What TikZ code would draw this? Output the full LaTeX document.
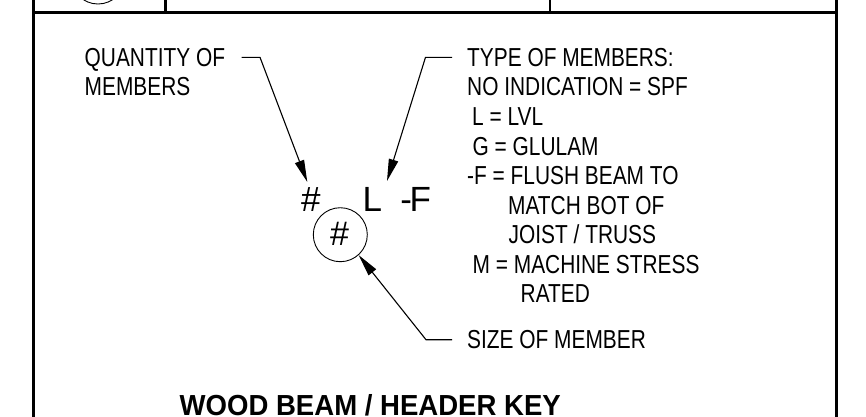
\documentclass[tikz,border=0pt]{standalone}
\usepackage{fontspec}
\setmainfont{Liberation Sans}
\newfontfamily\narrowfont[FakeStretch=0.803]{Liberation Sans}
\newfontfamily\titlefont[FakeStretch=0.95]{Liberation Sans}
\usetikzlibrary{arrows.meta}
\tikzset{
 x=1pt,y=-1pt,
 frame/.style={line width=2.9pt,black},
 lead/.style={line width=1.1pt,black,-{Triangle[length=22pt,width=9.5pt]}},
 lab/.style={anchor=base west,inner sep=0pt,font=\narrowfont\fontsize{26}{28}\selectfont},
 big/.style={anchor=base west,inner sep=0pt,font=\fontsize{35}{37}\selectfont},
 bubble/.style={circle,draw,line width=0.9pt,minimum size=54pt,inner sep=0pt},
}
\begin{document}
\begin{tikzpicture}
\useasboundingbox (0,0) rectangle (866,416);
\fill[white] (0,0) rectangle (866,416);
\begin{scope}
\clip (0,0) rectangle (866,416);
\coordinate (tl) at (33.8,-5); \coordinate (bl) at (33.8,421);
\coordinate (tr) at (836.8,-5); \coordinate (br) at (836.8,421);
\coordinate (ml) at (33.8,12.5); \coordinate (mr) at (836.8,12.5);
\coordinate (d1t) at (165.3,-5); \coordinate (d1b) at (165.3,12.5);
\coordinate (d2t) at (550,-5); \coordinate (d2b) at (550,12.5);
\draw[frame] (tl) -- (bl);
\draw[frame] (tr) -- (br);
\draw[frame] (ml) -- (mr);
\draw[frame] (d1t) -- (d1b);
\draw[frame] (d2t) -- (d2b);
\node[bubble] (top) at (98,-23) {};
\node[lab] (a1) at (84.5,66.7) {QUANTITY OF};
\node[lab] (a2) at (84.5,95.5) {MEMBERS};
\node[lab] (b1) at (467,66.7) {TYPE OF MEMBERS:};
\node[lab] (b2) at (467,95.5) {NO INDICATION = SPF};
\node[lab] (b3) at (472,125.5) {L = LVL};
\node[lab] (b4) at (472.5,155) {G = GLULAM};
\node[lab] (b5) at (467,184.5) {-F = FLUSH BEAM TO};
\node[lab] (b6) at (508,214) {MATCH BOT OF};
\node[lab] (b7) at (508.5,243.5) {JOIST / TRUSS};
\node[lab] (b8) at (472.5,273) {M = MACHINE STRESS};
\node[lab] (b9) at (520.5,302.5) {RATED};
\node[lab] (s) at (467,348) {SIZE OF MEMBER};
\node[big] (q) at (301,211.7) {\#};
\node[big] (l) at (362.4,211.7) {L};
\node[big] (f) at (400.2,211.7) {-\kern-2.5pt F};
\node[bubble] (b) at (340.3,234.7) {};
\node[big,anchor=base,font=\fontsize{34}{36}\selectfont] (h) at (339.6,245.2) {\#};
\coordinate (q1) at (241.7,57.3); \coordinate (q2) at (260,57.3); \coordinate (q3) at (307.3,182);
\draw[lead] (q1) -- (q2) -- (q3);
\coordinate (t1) at (452,57.3); \coordinate (t2) at (425.5,57.3); \coordinate (t3) at (387,181);
\draw[lead] (t1) -- (t2) -- (t3);
\coordinate (s1) at (452,339.7); \coordinate (s2) at (426,339.7);
\draw[lead] (s1) -- (s2) -- (b.-48);
\node[anchor=base west,inner sep=0pt,font=\titlefont\bfseries\fontsize{29}{31}\selectfont] (title) at (179.5,415.5) {WOOD BEAM / HEADER KEY};
\end{scope}
\end{tikzpicture}
\end{document}
